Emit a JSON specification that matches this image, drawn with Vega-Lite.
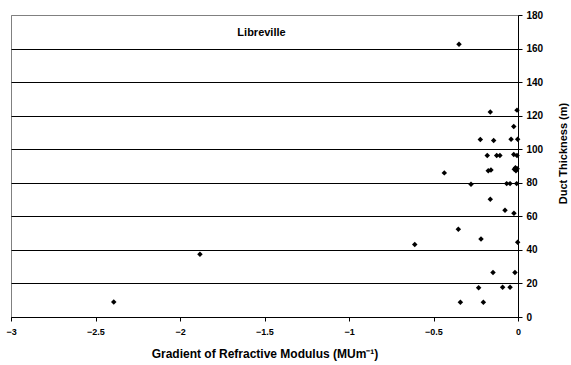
{
  "$schema": "https://vega.github.io/schema/vega-lite/v6.json",
  "width": 507,
  "height": 302,
  "autosize": {"type": "none"},
  "padding": {"left": 11, "top": 15, "right": 53, "bottom": 48},
  "background": "white",
  "config": {
    "view": {"stroke": "#808080", "strokeWidth": 1},
    "font": "Liberation Sans"
  },
  "data": {
    "values": [
      {"g": -0.349, "t": 162.6},
      {"g": -0.164, "t": 122.2},
      {"g": -0.006, "t": 123.3},
      {"g": -0.025, "t": 113.5},
      {"g": -0.223, "t": 105.8},
      {"g": -0.144, "t": 105.2},
      {"g": -0.041, "t": 106.0},
      {"g": -0.002, "t": 106.0},
      {"g": -0.182, "t": 96.2},
      {"g": -0.126, "t": 96.2},
      {"g": -0.107, "t": 96.2},
      {"g": -0.025, "t": 96.8},
      {"g": -0.006, "t": 96.2},
      {"g": -0.176, "t": 87.2},
      {"g": -0.160, "t": 87.6},
      {"g": -0.022, "t": 88.0},
      {"g": -0.012, "t": 87.2},
      {"g": -0.005, "t": 88.4},
      {"g": -0.015, "t": 89.0},
      {"g": -0.436, "t": 85.9},
      {"g": -0.278, "t": 79.1},
      {"g": -0.067, "t": 79.5},
      {"g": -0.047, "t": 79.5},
      {"g": -0.008, "t": 79.5},
      {"g": -0.164, "t": 70.2},
      {"g": -0.077, "t": 63.6},
      {"g": -0.024, "t": 61.8},
      {"g": -0.353, "t": 52.3},
      {"g": -0.219, "t": 46.5},
      {"g": -0.002, "t": 44.5},
      {"g": -0.611, "t": 43.2},
      {"g": -0.148, "t": 26.5},
      {"g": -0.018, "t": 26.5},
      {"g": -0.233, "t": 17.5},
      {"g": -0.091, "t": 17.7},
      {"g": -0.047, "t": 17.7},
      {"g": -0.341, "t": 8.8},
      {"g": -0.205, "t": 8.8},
      {"g": -1.882, "t": 37.4},
      {"g": -2.392, "t": 8.9}
    ]
  },
  "title": {
    "text": "Libreville",
    "anchor": "middle",
    "frame": "group",
    "orient": "top",
    "offset": -28,
    "dx": -3,
    "fontSize": 11,
    "fontWeight": "bold",
    "color": "black"
  },
  "mark": {"type": "point", "shape": "diamond", "filled": true, "color": "black", "size": 30, "opacity": 1},
  "encoding": {
    "x": {
      "field": "g",
      "type": "quantitative",
      "scale": {"domain": [-3, 0], "nice": false},
      "axis": {
        "values": [-3, -2.5, -2, -1.5, -1, -0.5, 0],
        "format": "~g",
        "grid": false,
        "domainColor": "black",
        "tickColor": "black",
        "tickSize": 4,
        "labelPadding": 6,
        "labelFontSize": 9,
        "labelFontWeight": "bold",
        "labelColor": "black",
        "labelFlush": false,
        "title": "Gradient of Refractive Modulus (MUm⁻¹)",
        "titleFontSize": 12,
        "titleFontWeight": "bold",
        "titleColor": "black",
        "titlePadding": 12
      }
    },
    "y": {
      "field": "t",
      "type": "quantitative",
      "scale": {"domain": [0, 180], "nice": false},
      "axis": {
        "orient": "right",
        "values": [0, 20, 40, 60, 80, 100, 120, 140, 160, 180],
        "grid": true,
        "gridColor": {"condition": {"test": "datum.value == 180", "value": "#808080"}, "value": "black"},
        "gridWidth": 1,
        "domainColor": "black",
        "tickColor": "black",
        "tickSize": 4,
        "labelPadding": 4,
        "labelFontSize": 10,
        "labelFontWeight": "bold",
        "labelColor": "black",
        "title": "Duct Thickness (m)",
        "titleAngle": -90,
        "titleY": 138,
        "titleFontSize": 11,
        "titleFontWeight": "bold",
        "titleColor": "black",
        "titlePadding": 26
      }
    }
  }
}
